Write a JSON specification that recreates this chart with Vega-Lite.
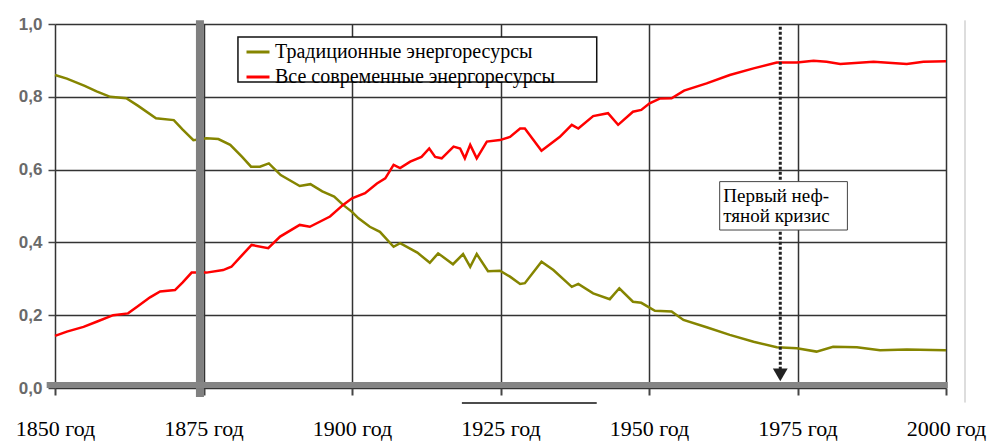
{
  "$schema": "https://vega.github.io/schema/vega-lite/v6.json",
  "width": 891,
  "height": 364,
  "autosize": "none",
  "padding": {"left": 55, "top": 24, "right": 59, "bottom": 53},
  "background": "white",
  "config": {"view": {"stroke": null}, "font": "Liberation Serif"},
  "encoding": {
    "x": {
      "field": "year",
      "type": "quantitative",
      "scale": {"domain": [1850, 2000], "nice": false, "zero": false},
      "axis": {
        "title": null,
        "values": [1850, 1875, 1900, 1925, 1950, 1975, 2000],
        "labelExpr": "datum.value + ' год'",
        "domain": false,
        "grid": true,
        "gridColor": "#333333",
        "gridWidth": 1.5,
        "ticks": true,
        "tickSize": 7,
        "tickColor": "#444444",
        "tickWidth": 2,
        "labelFont": "Liberation Serif",
        "labelFontSize": 22,
        "labelColor": "#000000",
        "labelBaseline": "alphabetic",
        "labelPadding": 40,
        "labelDx": 15,
        "labelFlush": false,
        "labelOverlap": false
      }
    },
    "y": {
      "field": "value",
      "type": "quantitative",
      "scale": {"domain": [0, 1], "nice": false, "zero": false},
      "axis": {
        "title": null,
        "values": [0, 0.2, 0.4, 0.6, 0.8, 1],
        "labelExpr": "replace(format(datum.value, '.1f'), '.', ',')",
        "domain": false,
        "grid": true,
        "gridColor": "#333333",
        "gridWidth": 1.5,
        "ticks": true,
        "tickSize": 7,
        "tickColor": "#444444",
        "tickWidth": 1.5,
        "labelFont": "Liberation Sans",
        "labelFontSize": 17,
        "labelFontWeight": "bold",
        "labelColor": "#6a6a6a",
        "labelPadding": 6,
        "labelFlush": false
      }
    }
  },
  "layer": [
    {
      "data": {"values": [{"year": 1880.8, "year2": 1941.2, "value": 0.841, "value2": 0.964}]},
      "mark": {"type": "rect", "fill": "white", "stroke": "#111111", "strokeWidth": 1.5},
      "encoding": {"x2": {"field": "year2"}, "y2": {"field": "value2"}}
    },
    {
      "data": {"values": [
        {"series": "Традиционные энергоресурсы", "year": 1850, "value": 0.86},
        {"series": "Традиционные энергоресурсы", "year": 1852, "value": 0.85},
        {"series": "Традиционные энергоресурсы", "year": 1855, "value": 0.83},
        {"series": "Традиционные энергоресурсы", "year": 1857, "value": 0.815},
        {"series": "Традиционные энергоресурсы", "year": 1859.3, "value": 0.8},
        {"series": "Традиционные энергоресурсы", "year": 1862, "value": 0.796},
        {"series": "Традиционные энергоресурсы", "year": 1864, "value": 0.775},
        {"series": "Традиционные энергоресурсы", "year": 1867, "value": 0.741},
        {"series": "Традиционные энергоресурсы", "year": 1870, "value": 0.736},
        {"series": "Традиционные энергоресурсы", "year": 1871.5, "value": 0.71},
        {"series": "Традиционные энергоресурсы", "year": 1873.3, "value": 0.681},
        {"series": "Традиционные энергоресурсы", "year": 1875.5, "value": 0.686},
        {"series": "Традиционные энергоресурсы", "year": 1877.5, "value": 0.684},
        {"series": "Традиционные энергоресурсы", "year": 1879.5, "value": 0.668},
        {"series": "Традиционные энергоресурсы", "year": 1881.5, "value": 0.635},
        {"series": "Традиционные энергоресурсы", "year": 1883, "value": 0.608},
        {"series": "Традиционные энергоресурсы", "year": 1884.5, "value": 0.608},
        {"series": "Традиционные энергоресурсы", "year": 1886, "value": 0.617},
        {"series": "Традиционные энергоресурсы", "year": 1888, "value": 0.585},
        {"series": "Традиционные энергоресурсы", "year": 1891.2, "value": 0.555},
        {"series": "Традиционные энергоресурсы", "year": 1893, "value": 0.56},
        {"series": "Традиционные энергоресурсы", "year": 1895, "value": 0.54},
        {"series": "Традиционные энергоресурсы", "year": 1897, "value": 0.526},
        {"series": "Традиционные энергоресурсы", "year": 1898.5, "value": 0.503},
        {"series": "Традиционные энергоресурсы", "year": 1900, "value": 0.484},
        {"series": "Традиционные энергоресурсы", "year": 1901.1, "value": 0.466},
        {"series": "Традиционные энергоресурсы", "year": 1903, "value": 0.443},
        {"series": "Традиционные энергоресурсы", "year": 1904.7, "value": 0.429},
        {"series": "Традиционные энергоресурсы", "year": 1907, "value": 0.388},
        {"series": "Традиционные энергоресурсы", "year": 1908.1, "value": 0.398},
        {"series": "Традиционные энергоресурсы", "year": 1911, "value": 0.372},
        {"series": "Традиционные энергоресурсы", "year": 1913.1, "value": 0.344},
        {"series": "Традиционные энергоресурсы", "year": 1914.5, "value": 0.37},
        {"series": "Традиционные энергоресурсы", "year": 1917, "value": 0.34},
        {"series": "Традиционные энергоресурсы", "year": 1918.7, "value": 0.368},
        {"series": "Традиционные энергоресурсы", "year": 1919.9, "value": 0.333},
        {"series": "Традиционные энергоресурсы", "year": 1921, "value": 0.368},
        {"series": "Традиционные энергоресурсы", "year": 1922.9, "value": 0.321},
        {"series": "Традиционные энергоресурсы", "year": 1924.9, "value": 0.322},
        {"series": "Традиционные энергоресурсы", "year": 1926.6, "value": 0.306},
        {"series": "Традиционные энергоресурсы", "year": 1928.3, "value": 0.286},
        {"series": "Традиционные энергоресурсы", "year": 1929.1, "value": 0.288},
        {"series": "Традиционные энергоресурсы", "year": 1931.9, "value": 0.347},
        {"series": "Традиционные энергоресурсы", "year": 1933.9, "value": 0.324},
        {"series": "Традиционные энергоресурсы", "year": 1937, "value": 0.278},
        {"series": "Традиционные энергоресурсы", "year": 1938.1, "value": 0.286},
        {"series": "Традиционные энергоресурсы", "year": 1940.6, "value": 0.26},
        {"series": "Традиционные энергоресурсы", "year": 1943.4, "value": 0.244},
        {"series": "Традиционные энергоресурсы", "year": 1945, "value": 0.274},
        {"series": "Традиционные энергоресурсы", "year": 1947.3, "value": 0.237},
        {"series": "Традиционные энергоресурсы", "year": 1948.7, "value": 0.234},
        {"series": "Традиционные энергоресурсы", "year": 1951, "value": 0.212},
        {"series": "Традиционные энергоресурсы", "year": 1953.8, "value": 0.21},
        {"series": "Традиционные энергоресурсы", "year": 1955.8, "value": 0.187},
        {"series": "Традиционные энергоресурсы", "year": 1959.7, "value": 0.167},
        {"series": "Традиционные энергоресурсы", "year": 1963.6, "value": 0.146},
        {"series": "Традиционные энергоресурсы", "year": 1967.6, "value": 0.127},
        {"series": "Традиционные энергоресурсы", "year": 1971.5, "value": 0.112},
        {"series": "Традиционные энергоресурсы", "year": 1974.9, "value": 0.109},
        {"series": "Традиционные энергоресурсы", "year": 1978.2, "value": 0.1},
        {"series": "Традиционные энергоресурсы", "year": 1981, "value": 0.113},
        {"series": "Традиционные энергоресурсы", "year": 1985, "value": 0.112},
        {"series": "Традиционные энергоресурсы", "year": 1988.9, "value": 0.104},
        {"series": "Традиционные энергоресурсы", "year": 1993.4, "value": 0.106},
        {"series": "Традиционные энергоресурсы", "year": 2000, "value": 0.104},
        {"series": "Все современные энергоресурсы", "year": 1850, "value": 0.143},
        {"series": "Все современные энергоресурсы", "year": 1852, "value": 0.155},
        {"series": "Все современные энергоресурсы", "year": 1854.8, "value": 0.168},
        {"series": "Все современные энергоресурсы", "year": 1857, "value": 0.182},
        {"series": "Все современные энергоресурсы", "year": 1859.8, "value": 0.2},
        {"series": "Все современные энергоресурсы", "year": 1862.3, "value": 0.205},
        {"series": "Все современные энергоресурсы", "year": 1864, "value": 0.225},
        {"series": "Все современные энергоресурсы", "year": 1866, "value": 0.249},
        {"series": "Все современные энергоресурсы", "year": 1867.7, "value": 0.265},
        {"series": "Все современные энергоресурсы", "year": 1870.2, "value": 0.269},
        {"series": "Все современные энергоресурсы", "year": 1871.5, "value": 0.29},
        {"series": "Все современные энергоресурсы", "year": 1873, "value": 0.317},
        {"series": "Все современные энергоресурсы", "year": 1875.5, "value": 0.317},
        {"series": "Все современные энергоресурсы", "year": 1878.3, "value": 0.324},
        {"series": "Все современные энергоресурсы", "year": 1879.7, "value": 0.333},
        {"series": "Все современные энергоресурсы", "year": 1881.5, "value": 0.365},
        {"series": "Все современные энергоресурсы", "year": 1883.1, "value": 0.393},
        {"series": "Все современные энергоресурсы", "year": 1885.9, "value": 0.384},
        {"series": "Все современные энергоресурсы", "year": 1887.9, "value": 0.416},
        {"series": "Все современные энергоресурсы", "year": 1891.2, "value": 0.448},
        {"series": "Все современные энергоресурсы", "year": 1892.9, "value": 0.443},
        {"series": "Все современные энергоресурсы", "year": 1896.3, "value": 0.471},
        {"series": "Все современные энергоресурсы", "year": 1898.5, "value": 0.503},
        {"series": "Все современные энергоресурсы", "year": 1900, "value": 0.521},
        {"series": "Все современные энергоресурсы", "year": 1902.2, "value": 0.535},
        {"series": "Все современные энергоресурсы", "year": 1904.2, "value": 0.562},
        {"series": "Все современные энергоресурсы", "year": 1905.6, "value": 0.576},
        {"series": "Все современные энергоресурсы", "year": 1907, "value": 0.613},
        {"series": "Все современные энергоресурсы", "year": 1908.1, "value": 0.604},
        {"series": "Все современные энергоресурсы", "year": 1909.8, "value": 0.622},
        {"series": "Все современные энергоресурсы", "year": 1911.7, "value": 0.635},
        {"series": "Все современные энергоресурсы", "year": 1913, "value": 0.658},
        {"series": "Все современные энергоресурсы", "year": 1914, "value": 0.635},
        {"series": "Все современные энергоресурсы", "year": 1915.1, "value": 0.631},
        {"series": "Все современные энергоресурсы", "year": 1917.1, "value": 0.663},
        {"series": "Все современные энергоресурсы", "year": 1918.2, "value": 0.658},
        {"series": "Все современные энергоресурсы", "year": 1919, "value": 0.631},
        {"series": "Все современные энергоресурсы", "year": 1919.9, "value": 0.668},
        {"series": "Все современные энергоресурсы", "year": 1921, "value": 0.631},
        {"series": "Все современные энергоресурсы", "year": 1922.7, "value": 0.677},
        {"series": "Все современные энергоресурсы", "year": 1924.9, "value": 0.681},
        {"series": "Все современные энергоресурсы", "year": 1926.6, "value": 0.69},
        {"series": "Все современные энергоресурсы", "year": 1928.3, "value": 0.713},
        {"series": "Все современные энергоресурсы", "year": 1929.1, "value": 0.713},
        {"series": "Все современные энергоресурсы", "year": 1931.9, "value": 0.652},
        {"series": "Все современные энергоресурсы", "year": 1935, "value": 0.69},
        {"series": "Все современные энергоресурсы", "year": 1937, "value": 0.723},
        {"series": "Все современные энергоресурсы", "year": 1938.1, "value": 0.713},
        {"series": "Все современные энергоресурсы", "year": 1940.6, "value": 0.747},
        {"series": "Все современные энергоресурсы", "year": 1943.1, "value": 0.755},
        {"series": "Все современные энергоресурсы", "year": 1944.8, "value": 0.723},
        {"series": "Все современные энергоресурсы", "year": 1947.3, "value": 0.759},
        {"series": "Все современные энергоресурсы", "year": 1948.7, "value": 0.764},
        {"series": "Все современные энергоресурсы", "year": 1950.1, "value": 0.782},
        {"series": "Все современные энергоресурсы", "year": 1951.8, "value": 0.795},
        {"series": "Все современные энергоресурсы", "year": 1953.8, "value": 0.796},
        {"series": "Все современные энергоресурсы", "year": 1955.9, "value": 0.817},
        {"series": "Все современные энергоресурсы", "year": 1959.7, "value": 0.837},
        {"series": "Все современные энергоресурсы", "year": 1963.6, "value": 0.86},
        {"series": "Все современные энергоресурсы", "year": 1967.6, "value": 0.878},
        {"series": "Все современные энергоресурсы", "year": 1971.5, "value": 0.894},
        {"series": "Все современные энергоресурсы", "year": 1974.9, "value": 0.894},
        {"series": "Все современные энергоресурсы", "year": 1977.7, "value": 0.899},
        {"series": "Все современные энергоресурсы", "year": 1979.9, "value": 0.896},
        {"series": "Все современные энергоресурсы", "year": 1982.2, "value": 0.89},
        {"series": "Все современные энергоресурсы", "year": 1987.8, "value": 0.896},
        {"series": "Все современные энергоресурсы", "year": 1993.4, "value": 0.89},
        {"series": "Все современные энергоресурсы", "year": 1996.2, "value": 0.896},
        {"series": "Все современные энергоресурсы", "year": 2000, "value": 0.898}
      ]},
      "mark": {"type": "line", "strokeWidth": 2.5},
      "encoding": {
        "color": {
          "field": "series",
          "type": "nominal",
          "scale": {
            "domain": ["Традиционные энергоресурсы", "Все современные энергоресурсы"],
            "range": ["#858500", "#ff0000"]
          },
          "legend": {
            "title": null,
            "orient": "none",
            "legendX": 190,
            "legendY": 15,
            "padding": 0,
            "labelFont": "Liberation Serif",
            "labelFontSize": 20,
            "labelColor": "#000000",
            "labelLimit": 500,
            "labelOffset": 4,
            "rowPadding": 2,
            "symbolType": "stroke",
            "symbolStrokeWidth": 3,
            "symbolSize": 529
          }
        }
      }
    },
    {
      "data": {"values": [{"year": 1874.4, "value": -0.025, "value2": 1.01}]},
      "mark": {"type": "rule", "color": "#808080", "strokeWidth": 8},
      "encoding": {"y2": {"field": "value2"}}
    },
    {
      "data": {"values": [{"year": 1848.6, "year2": 2000.3, "value": 0.008}]},
      "mark": {"type": "rule", "color": "#858585", "strokeWidth": 6},
      "encoding": {"x2": {"field": "year2"}}
    },
    {
      "data": {"values": [{"year": 1972.1, "value": 0.05, "value2": 1.0}]},
      "mark": {"type": "rule", "color": "#222222", "strokeWidth": 3, "strokeDash": [3, 2]},
      "encoding": {"y2": {"field": "value2"}}
    },
    {
      "data": {"values": [{"year": 1972.1, "value": 0.036}]},
      "mark": {"type": "point", "shape": "triangle-down", "filled": true, "size": 220, "color": "#222222", "opacity": 1}
    },
    {
      "data": {"values": [{"year": 1961.9, "year2": 1983.4, "value": 0.434, "value2": 0.567}]},
      "mark": {"type": "rect", "fill": "white", "stroke": "#444444", "strokeWidth": 1},
      "encoding": {"x2": {"field": "year2"}, "y2": {"field": "value2"}}
    },
    {
      "data": {"values": [{"year": 1962.5, "value": 0.51, "label": "Первый неф-\nтяной кризис"}]},
      "mark": {"type": "text", "align": "left", "baseline": "alphabetic", "font": "Liberation Serif", "fontSize": 19, "lineHeight": 20, "lineBreak": "\n", "color": "#000000"},
      "encoding": {"text": {"field": "label"}}
    },
    {
      "data": {"values": [{"year": 1918.5, "year2": 1941.2, "value": -0.041}]},
      "mark": {"type": "rule", "color": "#111111", "strokeWidth": 1.5},
      "encoding": {"x2": {"field": "year2"}}
    },
    {
      "data": {"values": [{"year": 2003.2, "value": -0.04, "value2": 1.01}]},
      "mark": {"type": "rule", "color": "#bbbbbb", "strokeWidth": 1},
      "encoding": {"y2": {"field": "value2"}}
    }
  ]
}
